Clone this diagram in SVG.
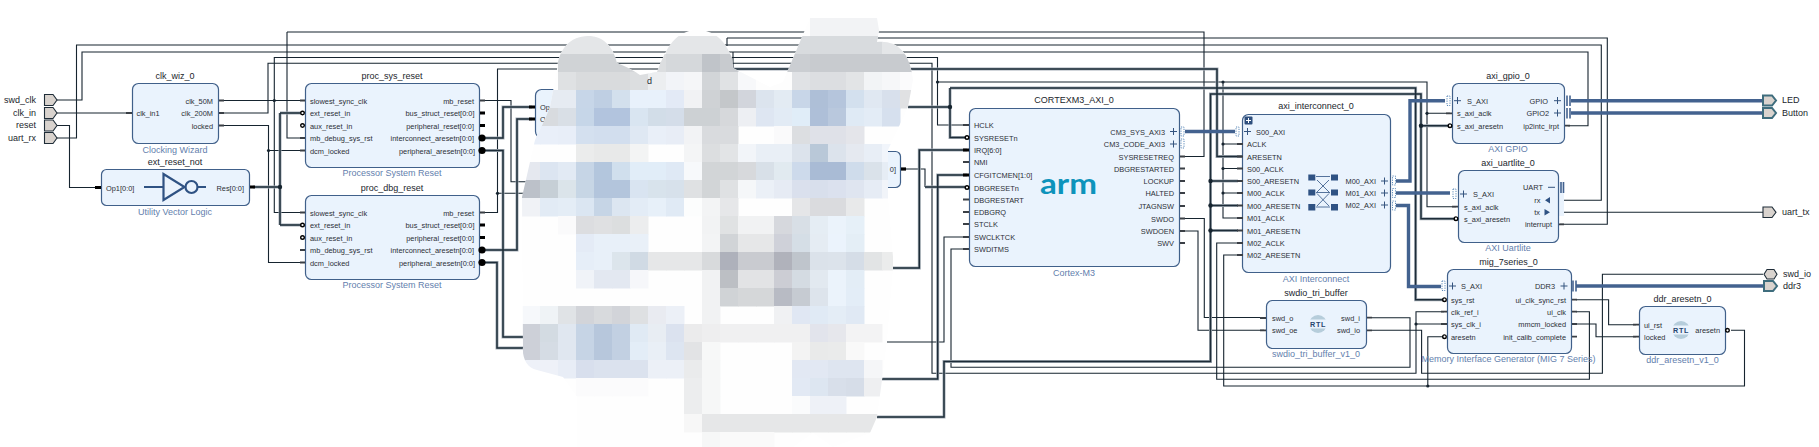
<svg xmlns="http://www.w3.org/2000/svg" width="1819" height="447" viewBox="0 0 1819 447">
<style>
text{font-family:"Liberation Sans",Arial,sans-serif;font-size:7.4px;fill:#2b2f36}
.t{font-size:9px;fill:#22262c;text-anchor:middle}
.l{font-size:9px;fill:#6380ad;text-anchor:middle}
.e{text-anchor:end}
.pl{font-size:9px;fill:#22262c}
.box{fill:#eaf3fd;stroke:#40608a;stroke-width:1.2}
.w{fill:none;stroke:#16242f;stroke-width:1.1}
.halo{fill:none;stroke:#a3acb5;stroke-width:3}
.core{fill:none;stroke:#1d2c38;stroke-width:1.5}
.bl{fill:none;stroke:#43628f;stroke-width:3.4}
.dot{fill:#16242f}
.stub{fill:none;stroke:#3a3f45;stroke-width:1.8}
.bstub{fill:none;stroke:#000;stroke-width:3.2}
.neg{fill:#fff;stroke:#000;stroke-width:1.4}
.negb{fill:#000}
.port{fill:#d9d3ce;stroke:#1f2d38;stroke-width:1.1}
.portb{fill:#d9d3ce;stroke:#3e6d7d;stroke-width:2}
.ic{fill:none;stroke:#2f5283;stroke-width:2.2}
.sq{fill:#2f5283}
.plus{fill:none;stroke:#35547f;stroke-width:1}
.dots{fill:none;stroke:#5a88b8;stroke-width:1;stroke-dasharray:1.2 1.2}
.bar{fill:none;stroke:#43628f;stroke-width:1.6}
.m rect{width:18.5px;height:18.5px}
</style>
<defs>
<g id="thick">
<path d="M253 187H280M280 113V225M280 113H301M280 225H301"/>
<path d="M483 138H503V107H532"/>
<path d="M483 250H517V119H532"/>
<path d="M483 150.5H503V337H530"/>
<path d="M483 262.5H497V348H530"/>
<path d="M733 69H1217V156.5H1243"/>
<path d="M908 107H950M950 88V137.5H965M950 88H1415.6V299.7H1444"/>
<path d="M893 268H919.3V150H967"/>
<path d="M925 187H965"/>
<path d="M882 379H937.7V175H967"/>
<path d="M877 417H944V361.5H1210.5V94H1421V218.7H1456M1421 125.7H1450M1210.5 181H1238M1210.5 205.5H1238M1210.5 230.5H1238"/>
</g>
<symbol id="rtl" overflow="visible"><circle r="9" fill="#b6cddb"/><rect x="-9.5" y="-4.5" width="19" height="9" fill="#eaf3fd"/><text text-anchor="middle" y="2.6" style="font-size:7.2px;font-weight:700;fill:#27466f;letter-spacing:.6px">RTL</text></symbol>
<clipPath id="cb"><path id="blobp" d="M557 70C558 50 570 36 588 36C603 36 613 46 617 63C625 66 633 70 640 75L657 72C664 55 672 30 698 30C715 30 726 42 732 58L733 68L770 87L783 82L810 18H877L879 30L877 42C895 40 910 50 913 80L908 107L888 150V197L893 257V268L887 340L882 380L877 417L870 433L833 447L813 433L793 447H577V397L563 377L537 370C527 368 522 358 523 347L522 197L535 140L545 119L550 107Z"/></clipPath>
</defs>
<g id="connectors">
<path class="w" d="M57 100H82V52H1588V125.7H1568"/>
<path class="w" d="M57 113H128"/>
<path class="w" d="M57 125.5H69.5V187.5H97"/>
<path class="w" d="M57 138H76.5V45H1601.3V200.3H1560"/>
<path class="w" d="M727 38H1607.3V224.3H1560M727 38V46"/>
<path class="w" d="M733 52V69"/>
<path class="w" d="M220 100.5H302M274.3 100.5V57.5H937.5V125H967M274.3 100.5V212.5H302"/>
<path class="w" d="M220 113H268V63.3H932V373.3H1416V311.7H1444M1416 324H1444"/>
<path class="w" d="M220 125.5H268.5V262.5H302M268.5 150.5H302"/>
<path class="w" d="M287 32H1204V156.5H1182M287 32V138H302"/>
<path class="w" d="M483 100.5H511V181.7H530"/>
<path class="w" d="M483 212.5H497.5V69H733M497.5 193.3H530"/>
<path class="w" d="M905 169H925V187"/>
<path class="w" d="M937.5 82H1427V206.7H1456M1427 113.3H1450M1223 82V218H1238M1223 144H1238M1223 168.5H1238M1223 193H1238"/>
<path class="w" d="M887 342H944V237H967"/>
<path class="w" d="M1372 317.7H1410V367.3H951V249H967"/>
<path class="w" d="M1182 218.5H1204.3V317.5H1264"/>
<path class="w" d="M1182 231H1198V330.3H1264"/>
<path class="w" d="M1372 330.3H1421.6V373.3H1602.4V274.3H1763"/>
<path class="w" d="M1576 311.7H1589.4V379.3H1216.7V243H1238"/>
<path class="w" d="M1731 330.3H1744.5V386H1223.7V255H1238M1427.8 386V336.7H1444"/>
<path class="w" d="M1576 299.7H1608.6V324.7H1636"/>
<path class="w" d="M1576 324H1596V336.7H1636"/>
<path class="w" d="M1560 212.3H1763"/>
<use href="#thick" class="halo"/>
<use href="#thick" class="core"/>
<path class="bl" d="M1185 131.5H1235"/>
<path class="bl" d="M1396 181H1410V100.7H1445"/>
<path class="bl" d="M1396 193H1450"/>
<path class="bl" d="M1396 205.5H1408.5V286.5H1441"/>
<path class="bl" d="M1571 100.7H1762M1571 113H1762"/>
<path class="bl" d="M1576 286H1764"/>
<g class="dot">
<circle cx="274.3" cy="100.5" r="1.6"/><circle cx="268.5" cy="150.5" r="1.6"/><circle cx="280" cy="187" r="2.2"/><circle cx="497.5" cy="193.3" r="1.6"/>
<circle cx="950" cy="107" r="2.2"/><circle cx="937.5" cy="82" r="1.6"/><circle cx="1223" cy="82" r="1.6"/><circle cx="1223" cy="144" r="1.6"/><circle cx="1223" cy="168.5" r="1.6"/><circle cx="1223" cy="193" r="1.6"/>
<circle cx="1210.5" cy="181" r="2.2"/><circle cx="1210.5" cy="205.5" r="2.2"/><circle cx="1210.5" cy="230.5" r="2.2"/>
<circle cx="1427" cy="113.3" r="1.6"/><circle cx="1421" cy="125.7" r="2.2"/><circle cx="1416" cy="324" r="1.6"/><circle cx="1427.8" cy="386" r="1.6"/>
</g>
</g>
<g id="ports">
<path class="port" d="M44.500 94.500H53L57 100L53 105.500H44.500Z"/><path class="port" d="M44.500 107.500H53L57 113L53 118.500H44.500Z"/><path class="port" d="M44.500 120H53L57 125.500L53 131H44.500Z"/><path class="port" d="M44.500 132.500H53L57 138L53 143.500H44.500Z"/>
<text x="36" y="103" class="pl e">swd_clk</text><text x="36" y="116" class="pl e">clk_in</text><text x="36" y="128" class="pl e">reset</text><text x="36" y="141" class="pl e">uart_rx</text>
<path class="portb" d="M1763 95.500H1772L1776 100.500L1772 105.500H1763Z"/><path class="portb" d="M1763 108H1772L1776 113L1772 118H1763Z"/><path class="portb" d="M1764 281H1773L1777 286L1773 291H1764Z"/>
<path class="port" d="M1763 207H1772L1776 212.300L1772 217.500H1763Z"/><path class="port" d="M1764 274.300L1767 269.500H1774L1777 274.300L1774 279H1767Z"/>
<text x="1782" y="103" class="pl">LED</text><text x="1782" y="116" class="pl">Button</text><text x="1782" y="215" class="pl">uart_tx</text><text x="1783" y="277" class="pl">swd_io</text><text x="1783" y="289" class="pl">ddr3</text>
</g>
<g id="clk_wiz_0">
<rect class="box" x="132.500" y="83.500" width="86" height="60" rx="6"/>
<path class="stub" d="M126 113H132M219 100.500H224M219 113H224M219 125.500H224"/>
<text x="175" y="79" class="t">clk_wiz_0</text><text x="175" y="152.500" class="l">Clocking Wizard</text>
<text x="136.500" y="116">clk_in1</text><text x="213" y="103.500" class="e">clk_50M</text><text x="213" y="116" class="e">clk_200M</text><text x="213" y="128.500" class="e">locked</text>
</g>
<g id="ext_reset_not">
<rect class="box" x="101.500" y="169.500" width="148" height="36" rx="5"/>
<path class="bstub" d="M95 187.500H101M250 187H255"/>
<path class="ic" d="M144 187H163.500M198 187H206M163.500 174V200L184.500 187Z"/><circle class="ic" cx="191.500" cy="187" r="6"/>
<text x="175" y="165" class="t">ext_reset_not</text><text x="175" y="214.500" class="l">Utility Vector Logic</text>
<text x="106" y="190.500">Op1[0:0]</text><text x="244" y="190.500" class="e">Res[0:0]</text>
</g>
<g id="proc_sys_reset">
<rect class="box" x="305.500" y="83.500" width="174" height="84" rx="6"/>
<path class="stub" d="M300 100.500H305M300 138H305M300 150.500H305M480 100.500H485"/><path class="bstub" d="M480 113H485M480 125.500H485"/>
<circle class="neg" cx="302.500" cy="113" r="1.800"/><circle class="neg" cx="302.500" cy="125.500" r="1.800"/><circle class="negb" cx="482" cy="138" r="3.600"/><circle class="negb" cx="482" cy="150.500" r="3.600"/>
<text x="392" y="79" class="t">proc_sys_reset</text><text x="392" y="176" class="l">Processor System Reset</text>
<text x="310" y="103.500">slowest_sync_clk</text><text x="310" y="116">ext_reset_in</text><text x="310" y="128.500">aux_reset_in</text><text x="310" y="141">mb_debug_sys_rst</text><text x="310" y="153.500">dcm_locked</text>
<text x="474" y="103.500" class="e">mb_reset</text><text x="474.500" y="116" class="e">bus_struct_reset[0:0]</text><text x="474" y="128.500" class="e">peripheral_reset[0:0]</text><text x="474" y="141" class="e">interconnect_aresetn[0:0]</text><text x="475" y="153.500" class="e">peripheral_aresetn[0:0]</text>
</g>
<g id="proc_dbg_reset">
<rect class="box" x="305.500" y="195.500" width="174" height="84" rx="6"/>
<path class="stub" d="M300 212.500H305M300 250H305M300 262.500H305M480 212.500H485"/><path class="bstub" d="M480 225H485M480 237.500H485"/>
<circle class="neg" cx="302.500" cy="225" r="1.800"/><circle class="neg" cx="302.500" cy="237.500" r="1.800"/><circle class="negb" cx="482" cy="250" r="3.600"/><circle class="negb" cx="482" cy="262.500" r="3.600"/>
<text x="392" y="191" class="t">proc_dbg_reset</text><text x="392" y="288" class="l">Processor System Reset</text>
<text x="310" y="215.500">slowest_sync_clk</text><text x="310" y="228">ext_reset_in</text><text x="310" y="240.500">aux_reset_in</text><text x="310" y="253">mb_debug_sys_rst</text><text x="310" y="265.500">dcm_locked</text>
<text x="474" y="215.500" class="e">mb_reset</text><text x="474.500" y="228" class="e">bus_struct_reset[0:0]</text><text x="474" y="240.500" class="e">peripheral_reset[0:0]</text><text x="474" y="253" class="e">interconnect_aresetn[0:0]</text><text x="475" y="265.500" class="e">peripheral_aresetn[0:0]</text>
</g>
<g id="hidden_left">
<rect class="box" x="535.500" y="89.500" width="40" height="48" rx="6"/>
<path class="bstub" d="M529 107H535M529 119H535"/>
<text x="540" y="110">Op</text><text x="540" y="122">O</text>
</g>
<g id="hidden_right">
<rect class="box" x="860.500" y="151.500" width="40" height="36" rx="5"/>
<path class="bstub" d="M901 169H906"/>
<text x="896" y="172" class="e">0]</text>
</g>
<g id="masked_region">
<use href="#blobp" fill="#fefefe"/>
<g class="m" clip-path="url(#cb)">
<g transform="translate(0,18)"><rect x="810" fill="#f2f3f5"/><rect x="828" fill="#f2f3f5"/><rect x="846" fill="#f2f3f5"/><rect x="864" fill="#f2f3f5"/></g>
<g transform="translate(0,36)"><rect x="558" fill="#e4e6e8"/><rect x="576" fill="#e4e6e8"/><rect x="594" fill="#e4e6e8"/><rect x="612" fill="#e6e7e9"/><rect x="666" fill="#e4e6e8"/><rect x="684" fill="#e4e6e8"/><rect x="702" fill="#e4e6e8"/><rect x="720" fill="#e4e6e8"/><rect x="792" fill="#d8dbde"/><rect x="810" fill="#d8dbde"/><rect x="828" fill="#d8dbde"/><rect x="846" fill="#d8dbde"/><rect x="864" fill="#d8dbde"/><rect x="882" fill="#e4e6e8"/><rect x="900" fill="#e4e6e8"/></g>
<g transform="translate(0,54)"><rect x="558" fill="#d0d3d6"/><rect x="576" fill="#d0d3d6"/><rect x="594" fill="#d0d3d6"/><rect x="612" fill="#d0d3d6"/><rect x="630" fill="#d4d6d9"/><rect x="648" fill="#dcdee0"/><rect x="666" fill="#d5d8db"/><rect x="684" fill="#d5d8db"/><rect x="702" fill="#c0c4c9"/><rect x="720" fill="#c8cbcf"/><rect x="774" fill="#cbced2"/><rect x="792" fill="#cbced2"/><rect x="810" fill="#c8cbcf"/><rect x="828" fill="#c8cbcf"/><rect x="846" fill="#c8cbcf"/><rect x="864" fill="#c8cbcf"/><rect x="882" fill="#c8cbcf"/><rect x="900" fill="#c8cbcf"/></g>
<g transform="translate(0,72)"><rect x="558" fill="#dfe1e3"/><rect x="576" fill="#d9dbdd"/><rect x="594" fill="#d9dbdd"/><rect x="612" fill="#d9dbdd"/><rect x="630" fill="#dcdee0"/><rect x="648" fill="#eceef0"/><rect x="666" fill="#f2f4f8"/><rect x="684" fill="#f5f6f8"/><rect x="702" fill="#d2d5d8"/><rect x="720" fill="#e0e2e4"/><rect x="738" fill="#f7f8fa"/><rect x="756" fill="#fdfdfd"/><rect x="774" fill="#fdfdfd"/><rect x="792" fill="#e0e2e5"/><rect x="810" fill="#dcdee1"/><rect x="828" fill="#dcdee1"/><rect x="846" fill="#e2e4e6"/><rect x="864" fill="#f2f4f6"/><rect x="882" fill="#f6f7f9"/><rect x="900" fill="#fbfbfc"/></g>
<g transform="translate(0,90)"><rect x="540" fill="#e6ebf2"/><rect x="558" fill="#e6ebf2"/><rect x="576" fill="#c7d6e8"/><rect x="594" fill="#bfcfe3"/><rect x="612" fill="#d3e0ed"/><rect x="630" fill="#e8f1fb"/><rect x="648" fill="#e8f1fb"/><rect x="666" fill="#e3eaf6"/><rect x="684" fill="#f1f2f4"/><rect x="702" fill="#cfd2d5"/><rect x="720" fill="#c4c7ca"/><rect x="738" fill="#d2d5dc"/><rect x="756" fill="#dce4ee"/><rect x="774" fill="#e3ebf3"/><rect x="792" fill="#c8d6e8"/><rect x="810" fill="#aebfd7"/><rect x="828" fill="#b5c5dc"/><rect x="846" fill="#d3e0ee"/><rect x="864" fill="#e0e8f2"/><rect x="882" fill="#d8e0ec"/><rect x="900" fill="#e0e1e3"/></g>
<g transform="translate(0,108)"><rect x="522" fill="#d8dbdf"/><rect x="540" fill="#d8dbdf"/><rect x="558" fill="#d9dfe6"/><rect x="576" fill="#c6d6e8"/><rect x="594" fill="#b2c4de"/><rect x="612" fill="#b2c4de"/><rect x="630" fill="#d9e5f1"/><rect x="648" fill="#d2dde8"/><rect x="666" fill="#d4dde9"/><rect x="684" fill="#cdd1d4"/><rect x="702" fill="#cdd1d4"/><rect x="720" fill="#d6d8db"/><rect x="738" fill="#edeff3"/><rect x="756" fill="#dee6f2"/><rect x="774" fill="#e2ebf5"/><rect x="792" fill="#e0edf8"/><rect x="810" fill="#aebfd8"/><rect x="828" fill="#b9c8dd"/><rect x="846" fill="#dfeaf5"/><rect x="864" fill="#e3ecf6"/><rect x="882" fill="#d6e0ee"/></g>
<g transform="translate(0,126)"><rect x="522" fill="#e9eff9"/><rect x="540" fill="#e9eff9"/><rect x="558" fill="#e8eef8"/><rect x="576" fill="#d4e0ef"/><rect x="594" fill="#d2deee"/><rect x="612" fill="#d2deee"/><rect x="630" fill="#dfe8f3"/><rect x="648" fill="#e9eff8"/><rect x="666" fill="#e8edf6"/><rect x="684" fill="#f2f3f5"/><rect x="702" fill="#d9dbde"/><rect x="720" fill="#d9dbde"/><rect x="774" fill="#fafafb"/><rect x="792" fill="#dcdee1"/><rect x="810" fill="#dfe1e8"/><rect x="828" fill="#dfe1e8"/><rect x="846" fill="#e4e5ea"/></g>
<g transform="translate(0,144)"><rect x="576" fill="#ebecec"/><rect x="594" fill="#e8e9e9"/><rect x="612" fill="#e8e9e9"/><rect x="630" fill="#f3f4f4"/><rect x="684" fill="#f4f5f6"/><rect x="702" fill="#dcdee0"/><rect x="720" fill="#e2e4e6"/><rect x="738" fill="#f2f5f9"/><rect x="756" fill="#e9eff6"/><rect x="774" fill="#e9eff6"/><rect x="792" fill="#dce3ec"/><rect x="810" fill="#b9c8d8"/><rect x="828" fill="#dce3ec"/><rect x="846" fill="#e5e9f0"/><rect x="864" fill="#e8eef6"/><rect x="882" fill="#f1f5fb"/></g>
<g transform="translate(0,162)"><rect x="522" fill="#e5e8ef"/><rect x="540" fill="#dce5f1"/><rect x="558" fill="#e2eaf4"/><rect x="576" fill="#c6d5e6"/><rect x="594" fill="#b3c6dd"/><rect x="612" fill="#d0dfed"/><rect x="630" fill="#e1edf8"/><rect x="648" fill="#e1edf8"/><rect x="666" fill="#dfe9f5"/><rect x="684" fill="#f7f9fb"/><rect x="702" fill="#d2d5d7"/><rect x="720" fill="#d2d5d7"/><rect x="738" fill="#d7d9dc"/><rect x="756" fill="#d8e0e8"/><rect x="774" fill="#e1eaf0"/><rect x="792" fill="#cddaeb"/><rect x="810" fill="#a9bbd5"/><rect x="828" fill="#a9bbd5"/><rect x="846" fill="#cfdceb"/><rect x="864" fill="#dae2ea"/><rect x="882" fill="#e6edf5"/></g>
<g transform="translate(0,180)"><rect x="522" fill="#bcc1c9"/><rect x="540" fill="#c6cfd6"/><rect x="558" fill="#dbe4ea"/><rect x="576" fill="#c7d6e5"/><rect x="594" fill="#b3c5dc"/><rect x="612" fill="#b3c5dc"/><rect x="630" fill="#d9e4f1"/><rect x="648" fill="#d8e3ec"/><rect x="666" fill="#d7e1eb"/><rect x="684" fill="#dfe1e3"/><rect x="702" fill="#d2d5d7"/><rect x="720" fill="#dfe1e3"/><rect x="738" fill="#f5f7f9"/><rect x="756" fill="#ebf0f7"/><rect x="774" fill="#e6ebf4"/><rect x="792" fill="#dae0ed"/><rect x="810" fill="#d8dfec"/><rect x="828" fill="#dbe1ee"/><rect x="846" fill="#dfe5f0"/><rect x="864" fill="#e6ecf5"/><rect x="882" fill="#f1f4f9"/></g>
<g transform="translate(0,198)"><rect x="522" fill="#f0f2f6"/><rect x="540" fill="#e2ebf5"/><rect x="558" fill="#e4edf6"/><rect x="576" fill="#dbe6f2"/><rect x="594" fill="#c6d5e6"/><rect x="612" fill="#dce6f1"/><rect x="630" fill="#e3ecf6"/><rect x="648" fill="#e7f0f9"/><rect x="666" fill="#e0eaf5"/><rect x="684" fill="#fcfdfd"/><rect x="702" fill="#f3f4f5"/><rect x="720" fill="#e6e7e9"/><rect x="792" fill="#e5e6e8"/><rect x="810" fill="#dadbde"/><rect x="828" fill="#dadbde"/><rect x="846" fill="#e8e9ea"/></g>
<g transform="translate(0,216)"><rect x="558" fill="#fafafb"/><rect x="576" fill="#dcdde0"/><rect x="594" fill="#dfe0e2"/><rect x="612" fill="#dcdedf"/><rect x="630" fill="#ecedee"/><rect x="702" fill="#f2f3f4"/><rect x="720" fill="#e0e2e3"/><rect x="738" fill="#f1f2f3"/><rect x="756" fill="#f1f2f3"/><rect x="774" fill="#d6d8dd"/><rect x="792" fill="#d8dfe6"/><rect x="810" fill="#e5edf4"/><rect x="828" fill="#ebf3fb"/><rect x="846" fill="#e6f0f8"/></g>
<g transform="translate(0,234)"><rect x="576" fill="#e4ebf6"/><rect x="594" fill="#e8f0f9"/><rect x="612" fill="#e8f0f9"/><rect x="630" fill="#e9f0f8"/><rect x="702" fill="#f3f4f5"/><rect x="720" fill="#d1d4d7"/><rect x="738" fill="#e6e7e8"/><rect x="756" fill="#e6e7e8"/><rect x="774" fill="#cfd1d9"/><rect x="792" fill="#d5dee6"/><rect x="810" fill="#e5ecf3"/><rect x="828" fill="#ebf3fc"/><rect x="846" fill="#e4eef6"/></g>
<g transform="translate(0,252)"><rect x="576" fill="#e6eef8"/><rect x="594" fill="#e8f0f9"/><rect x="612" fill="#dce5ec"/><rect x="630" fill="#d0dae4"/><rect x="648" fill="#e6e7e8"/><rect x="666" fill="#e6e7e8"/><rect x="684" fill="#e6e7e8"/><rect x="702" fill="#d8dadc"/><rect x="720" fill="#aeb1bb"/><rect x="738" fill="#c9cbd0"/><rect x="756" fill="#c9cbd0"/><rect x="774" fill="#b0b2bb"/><rect x="792" fill="#bfc5cc"/><rect x="810" fill="#dbe2ea"/><rect x="828" fill="#dce3eb"/><rect x="846" fill="#d5dde7"/><rect x="864" fill="#e2e4e5"/><rect x="882" fill="#ebecec"/></g>
<g transform="translate(0,270)"><rect x="576" fill="#f0f3f8"/><rect x="594" fill="#e3e8f1"/><rect x="612" fill="#e3e8f1"/><rect x="630" fill="#f6f7fa"/><rect x="702" fill="#f1f2f3"/><rect x="720" fill="#bcbfc4"/><rect x="738" fill="#e2e3e5"/><rect x="756" fill="#e2e3e5"/><rect x="774" fill="#cccdd4"/><rect x="792" fill="#d4dbe2"/><rect x="810" fill="#e2e9f0"/><rect x="828" fill="#ebf3fb"/><rect x="846" fill="#e3edf6"/></g>
<g transform="translate(0,288)"><rect x="702" fill="#f1f2f3"/><rect x="720" fill="#d0d3d6"/><rect x="738" fill="#d5d7d9"/><rect x="756" fill="#d5d7d9"/><rect x="774" fill="#b8bbc4"/><rect x="792" fill="#c6cbd2"/><rect x="810" fill="#dde4ec"/><rect x="828" fill="#ebf3fb"/><rect x="846" fill="#e3edf7"/></g>
<g transform="translate(0,306)"><rect x="522" fill="#f6f8fb"/><rect x="540" fill="#eff3f6"/><rect x="558" fill="#e0e3e6"/><rect x="576" fill="#d2d4d9"/><rect x="594" fill="#d8dadd"/><rect x="612" fill="#d2d4d9"/><rect x="630" fill="#dee0e2"/><rect x="648" fill="#e9ebf1"/><rect x="666" fill="#ecf0f7"/><rect x="702" fill="#f1f2f3"/><rect x="774" fill="#f0f1f3"/><rect x="792" fill="#e0e7f3"/><rect x="810" fill="#e0eaf5"/><rect x="828" fill="#e4edf6"/><rect x="846" fill="#e0e9f4"/></g>
<g transform="translate(0,324)"><rect x="522" fill="#cdd0d8"/><rect x="540" fill="#d3dbe2"/><rect x="558" fill="#e0e7f0"/><rect x="576" fill="#c6d4e5"/><rect x="594" fill="#b7c7dc"/><rect x="612" fill="#c2d0e2"/><rect x="630" fill="#e0eaf4"/><rect x="648" fill="#e8edf3"/><rect x="666" fill="#dbe2ef"/><rect x="684" fill="#ebebec"/><rect x="702" fill="#eeeeef"/><rect x="720" fill="#f0f0f1"/><rect x="738" fill="#f0f0f1"/><rect x="756" fill="#f0f0f1"/><rect x="774" fill="#f0f0f1"/><rect x="792" fill="#f0f0f1"/><rect x="810" fill="#e2e4ec"/><rect x="828" fill="#e6e7ec"/><rect x="846" fill="#f3f3f4"/><rect x="864" fill="#f3f3f4"/></g>
<g transform="translate(0,342)"><rect x="522" fill="#cdd0d8"/><rect x="540" fill="#d5dce4"/><rect x="558" fill="#e0e7f0"/><rect x="576" fill="#c6d4e5"/><rect x="594" fill="#b7c7dc"/><rect x="612" fill="#c2d0e2"/><rect x="630" fill="#e3edf7"/><rect x="648" fill="#e9eff6"/><rect x="666" fill="#dde5f1"/><rect x="684" fill="#e2e3e5"/><rect x="702" fill="#f7f8f8"/><rect x="792" fill="#f3f3f3"/><rect x="810" fill="#e9eaea"/><rect x="828" fill="#eaebeb"/><rect x="846" fill="#f9f9f9"/></g>
<g transform="translate(0,360)"><rect x="522" fill="#eef1f8"/><rect x="540" fill="#eef1f8"/><rect x="558" fill="#e8edf6"/><rect x="576" fill="#d8dfed"/><rect x="594" fill="#dbe2ee"/><rect x="612" fill="#dbe2ee"/><rect x="630" fill="#dbe2ee"/><rect x="648" fill="#ecf0f7"/><rect x="666" fill="#ecf0f7"/><rect x="684" fill="#eaebec"/><rect x="702" fill="#f6f7f7"/><rect x="792" fill="#e2e8f3"/><rect x="810" fill="#e2e8f3"/><rect x="828" fill="#dee5f0"/><rect x="846" fill="#dee5f0"/><rect x="864" fill="#f5f6f8"/></g>
<g transform="translate(0,378)"><rect x="576" fill="#fbfbfc"/><rect x="594" fill="#fbfbfc"/><rect x="612" fill="#fbfbfc"/><rect x="630" fill="#fbfbfc"/><rect x="684" fill="#ecedee"/><rect x="702" fill="#f6f7f7"/><rect x="792" fill="#e2e9f4"/><rect x="810" fill="#dde6f1"/><rect x="828" fill="#d8dfea"/><rect x="846" fill="#d6dde8"/><rect x="864" fill="#eeeff1"/></g>
<g transform="translate(0,396)"><rect x="684" fill="#ecedee"/><rect x="702" fill="#f6f7f7"/><rect x="792" fill="#fafbfc"/><rect x="810" fill="#eef1f7"/><rect x="828" fill="#eef1f7"/></g>
<g transform="translate(0,414)"><rect x="684" fill="#f7f7f7"/><rect x="702" fill="#e6e7e8"/><rect x="720" fill="#e6e7e8"/><rect x="738" fill="#e6e7e8"/><rect x="756" fill="#e6e7e8"/><rect x="774" fill="#e6e7e8"/><rect x="792" fill="#e6e7e8"/><rect x="810" fill="#e6e7e8"/><rect x="828" fill="#e6e7e8"/><rect x="846" fill="#e6e7e8"/><rect x="864" fill="#e6e7e8"/></g>
<g transform="translate(0,432)"><rect x="702" fill="#f6f7f7"/><rect x="720" fill="#fafafa"/><rect x="738" fill="#fafafa"/><rect x="756" fill="#fafafa"/></g>
</g>
<text x="647" y="84" style="font-size:9px">d</text>
</g>
<g id="CORTEXM3_AXI_0">
<rect class="box" x="969.500" y="108.500" width="210" height="158" rx="6"/>
<path class="stub" d="M963 125H969M963 162H969M963 199.500H969M963 212H969M963 224H969M963 237H969M963 249H969M1180 156.500H1185M1180 168.500H1185M1180 181H1185M1180 193H1185M1180 206H1185M1180 218.500H1185M1180 231H1185M1180 243H1185"/>
<path class="bstub" d="M963 150H969M963 175H969"/>
<circle class="neg" cx="967" cy="137.500" r="1.800"/><circle class="neg" cx="967" cy="187.500" r="1.800"/>
<path class="plus" d="M1170 131.500h7M1173.500 128v7M1170 144h7M1173.500 140.500v7"/>
<path class="dots" d="M1181 127h3v9h-3zM1181 139h3v9h-3z"/>
<text x="1074" y="103" class="t">CORTEXM3_AXI_0</text><text x="1074" y="276" class="l">Cortex-M3</text>
<text x="1040" y="194" style="font-family:Lato,sans-serif;font-size:29px;font-weight:700;fill:#0e93bb" textLength="57" lengthAdjust="spacingAndGlyphs">arm</text>
<text x="974" y="128">HCLK</text><text x="974" y="140.500">SYSRESETn</text><text x="974" y="153">IRQ[6:0]</text><text x="974" y="165">NMI</text><text x="974" y="178">CFGITCMEN[1:0]</text><text x="974" y="190.500">DBGRESETn</text><text x="974" y="202.500">DBGRESTART</text><text x="974" y="215">EDBGRQ</text><text x="974" y="227">STCLK</text><text x="974" y="240">SWCLKTCK</text><text x="974" y="252">SWDITMS</text>
<text x="1165" y="134.500" class="e">CM3_SYS_AXI3</text><text x="1165" y="147" class="e">CM3_CODE_AXI3</text><text x="1174" y="159.500" class="e">SYSRESETREQ</text><text x="1174" y="171.500" class="e">DBGRESTARTED</text><text x="1174" y="184" class="e">LOCKUP</text><text x="1174" y="196" class="e">HALTED</text><text x="1174" y="209" class="e">JTAGNSW</text><text x="1174" y="221.500" class="e">SWDO</text><text x="1174" y="234" class="e">SWDOEN</text><text x="1174" y="246" class="e">SWV</text>
</g>
<g id="axi_interconnect_0">
<rect class="box" x="1242.500" y="114.500" width="148" height="158" rx="6"/>
<rect x="1244.500" y="116.500" width="8" height="8" rx="1" fill="#2f4f7d"/><path d="M1246 120.500h5M1248.500 118v5" stroke="#fff" fill="none"/>
<path class="stub" d="M1237 144H1243M1237 156.500H1243M1237 168.500H1243M1237 181H1243M1237 193H1243M1237 205.500H1243M1237 218H1243M1237 230.500H1243M1237 243H1243M1237 255H1243"/>
<path class="plus" d="M1244 131.500h7M1247.500 128v7M1381 181h7M1384.500 177.500v7M1381 193h7M1384.500 189.500v7M1381 205h7M1384.500 201.500v7"/>
<path class="dots" d="M1236 127h3v9h-3zM1392.500 176h3v9h-3zM1392.500 188.500h3v9h-3zM1392.500 201h3v9h-3z"/>
<path class="sq" d="M1308.300 174.500h7v6h-7zM1331 174.500h7v6h-7zM1308.300 189.500h7v6h-7zM1331 189.500h7v6h-7zM1308.300 204h7v6.500h-7zM1331 204h7v6.500h-7z"/>
<path fill="none" stroke="#2f5283" stroke-width=".8" d="M1316 176.500H1330M1317 180L1329 192M1329 180L1317 192M1316 192.500H1330M1317 193.500L1329 206M1329 193.500L1317 206M1316 207H1330"/>
<text x="1316" y="109" class="t">axi_interconnect_0</text><text x="1316" y="282" class="l">AXI Interconnect</text>
<text x="1256" y="134.500">S00_AXI</text><text x="1247" y="147">ACLK</text><text x="1247" y="159.500">ARESETN</text><text x="1247" y="171.500">S00_ACLK</text><text x="1247" y="184">S00_ARESETN</text><text x="1247" y="196">M00_ACLK</text><text x="1247" y="208.500">M00_ARESETN</text><text x="1247" y="221">M01_ACLK</text><text x="1247" y="233.500">M01_ARESETN</text><text x="1247" y="246">M02_ACLK</text><text x="1247" y="258">M02_ARESETN</text>
<text x="1376" y="184" class="e">M00_AXI</text><text x="1376" y="196" class="e">M01_AXI</text><text x="1376" y="208" class="e">M02_AXI</text>
</g>
<g id="axi_gpio_0">
<rect class="box" x="1452.500" y="83.500" width="112" height="60" rx="6"/>
<path class="stub" d="M1446 113.300H1452M1565 125.700H1570"/>
<circle class="neg" cx="1450" cy="125.700" r="1.800"/>
<path class="plus" d="M1454 100.700h7M1457.500 97v7M1554 100.700h7M1557.500 97v7M1554 113h7M1557.500 109.500v7"/>
<path class="dots" d="M1447 96h3v9.500h-3z"/>
<path class="bar" d="M1567 95.500v10.500M1570 95.500v10.500M1567 108v10.500M1570 108v10.500"/>
<text x="1508" y="79" class="t">axi_gpio_0</text><text x="1508" y="152" class="l">AXI GPIO</text>
<text x="1467" y="103.700">S_AXI</text><text x="1457" y="116.300">s_axi_aclk</text><text x="1457" y="128.700">s_axi_aresetn</text>
<text x="1548" y="103.700" class="e">GPIO</text><text x="1549" y="116" class="e">GPIO2</text><text x="1559" y="128.700" class="e">ip2intc_irpt</text>
</g>
<g id="axi_uartlite_0">
<rect x="1558" y="182" width="6" height="34" fill="#eaf3fd"/>
<rect class="box" x="1458.500" y="170.500" width="100" height="72" rx="6"/>
<path class="stub" d="M1452 206.700H1458M1559 224.300H1564"/>
<circle class="neg" cx="1456" cy="218.700" r="1.800"/>
<path class="plus" d="M1460 194h7M1463.500 190.500v7M1548 187.300h7"/>
<path class="dots" d="M1453 189h3v9.500h-3z"/>
<path class="bar" d="M1561 182v11M1563.500 182v11"/>
<path class="sq" d="M1550 197V203.500L1545 200.300ZM1544.500 209V215.500L1550 212.300Z"/>
<text x="1508" y="166" class="t">axi_uartlite_0</text><text x="1508" y="251" class="l">AXI Uartlite</text>
<text x="1473" y="197">S_AXI</text><text x="1464" y="209.700">s_axi_aclk</text><text x="1464" y="221.700">s_axi_aresetn</text>
<text x="1543" y="190.300" class="e">UART</text><text x="1540.500" y="203.300" class="e">rx</text><text x="1540" y="215.300" class="e">tx</text><text x="1552" y="227.300" class="e">interrupt</text>
</g>
<g id="mig_7series_0">
<rect class="box" x="1447.500" y="269.500" width="124" height="84" rx="6"/>
<path class="stub" d="M1441 311.700H1447M1441 324H1447M1572 299.700H1577M1572 311.700H1577M1572 324H1577M1572 336.700H1577"/>
<circle class="neg" cx="1444.500" cy="299.700" r="1.800"/><circle class="neg" cx="1444.500" cy="336.700" r="1.800"/>
<path class="plus" d="M1449 286h7M1452.500 282.500v7M1560.500 286h7M1564 282.500v7"/>
<path class="dots" d="M1442 281h3v9.500h-3z"/>
<path class="bar" d="M1573 280.500v11M1576 280.500v11"/>
<text x="1508.500" y="265" class="t">mig_7series_0</text><text x="1508.500" y="362" class="l">Memory Interface Generator (MIG 7 Series)</text>
<text x="1461" y="289">S_AXI</text><text x="1451" y="302.700">sys_rst</text><text x="1451" y="314.700">clk_ref_i</text><text x="1451" y="327">sys_clk_i</text><text x="1451" y="339.700">aresetn</text>
<text x="1555" y="289" class="e">DDR3</text><text x="1566" y="302.700" class="e">ui_clk_sync_rst</text><text x="1566" y="314.700" class="e">ui_clk</text><text x="1566" y="327" class="e">mmcm_locked</text><text x="1566" y="339.700" class="e">init_calib_complete</text>
</g>
<g id="swdio_tri_buffer">
<rect class="box" x="1266.500" y="300.500" width="100" height="48" rx="6"/>
<path class="stub" d="M1260 318H1266M1260 330.300H1266M1367 317.700H1372M1367 330.300H1372"/>
<use href="#rtl" x="1318" y="324"/>
<text x="1316" y="296" class="t">swdio_tri_buffer</text><text x="1316" y="357" class="l">swdio_tri_buffer_v1_0</text>
<text x="1272" y="321">swd_o</text><text x="1272" y="333.300">swd_oe</text><text x="1360" y="320.700" class="e">swd_i</text><text x="1360" y="333.300" class="e">swd_io</text>
</g>
<g id="ddr_aresetn_0">
<rect class="box" x="1639.500" y="306.500" width="86" height="48" rx="6"/>
<path class="stub" d="M1633 324.700H1639M1633 336.700H1639"/>
<circle class="neg" cx="1727.500" cy="330.300" r="1.800"/>
<use href="#rtl" x="1681" y="330"/>
<text x="1682.500" y="302" class="t">ddr_aresetn_0</text><text x="1682.500" y="363" class="l">ddr_aresetn_v1_0</text>
<text x="1644" y="327.700">ui_rst</text><text x="1644" y="339.700">locked</text><text x="1720" y="333.300" class="e">aresetn</text>
</g>
</svg>
